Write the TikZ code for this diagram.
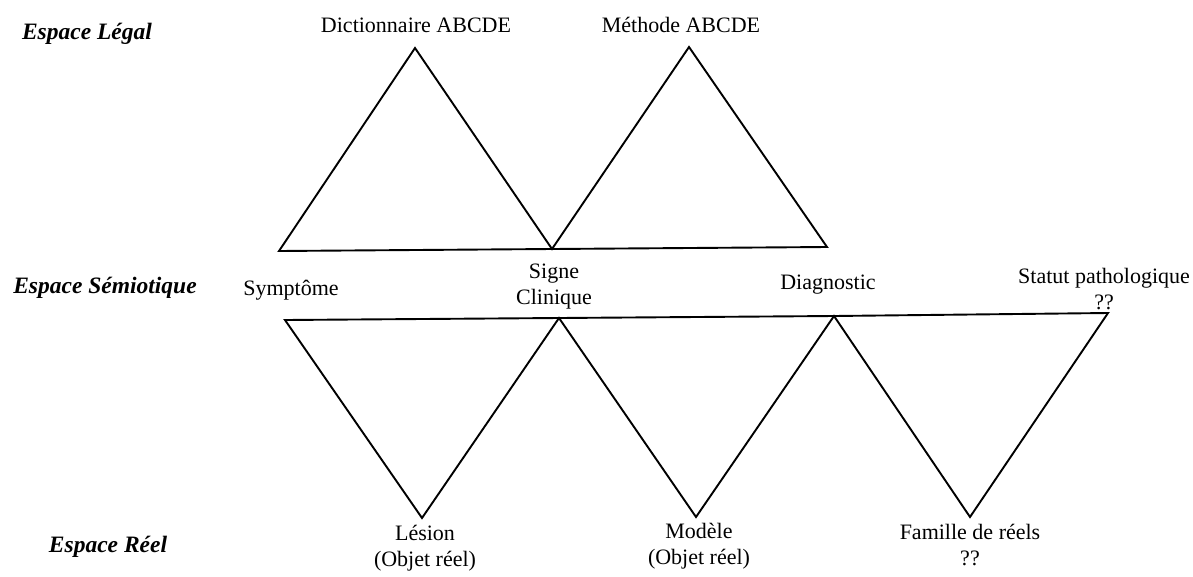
\documentclass[tikz,border=0pt]{standalone}
\usepackage{fontspec}
\setmainfont{Liberation Serif}
\begin{document}
\begin{tikzpicture}[x=1pt,y=-1pt,
  edge/.style={line width=1.9pt,line join=miter},
  lbl/.style={inner sep=0pt,anchor=base,align=center,font=\fontsize{22}{26}\selectfont},
  space/.style={inner sep=0pt,anchor=base,font=\fontsize{23.5}{27}\selectfont\bfseries\itshape}]
\useasboundingbox (0,0) rectangle (1193,576);
% vertices
\coordinate (dict) at (415,48);
\coordinate (meth) at (689,47);
\coordinate (tl) at (279,251);
\coordinate (tm) at (552,249);
\coordinate (tr) at (827,247);
\coordinate (symp) at (285,320);
\coordinate (sc) at (559,318);
\coordinate (diag) at (834,316);
\coordinate (stat) at (1108,313);
\coordinate (les) at (422,518);
\coordinate (mod) at (696,517);
\coordinate (fam) at (970,517);
% upper triangles
\draw[edge] (tl) -- (dict) -- (tm) -- (meth) -- (tr) -- (tm) -- cycle;
% lower triangles
\draw[edge] (symp) -- (les) -- (sc) -- (mod) -- (diag) -- (fam) -- (stat) -- (diag) -- (sc) -- cycle;
% space labels
\node[space] (legal) at (87,39) {Espace Légal};
\node[space] (semio) at (105,293) {Espace Sémiotique};
\node[space] (reel) at (108,552) {Espace Réel};
% texts
\node[lbl] (tdict) at (416,32) {Dictionnaire ABCDE};
\node[lbl] (tmeth) at (681,32) {Méthode ABCDE};
\node[lbl] (tsymp) at (291,295) {Symptôme};
\node[lbl] (tsc) at (554,304) {Signe\\Clinique};
\node[lbl] (tdiag) at (828,289) {Diagnostic};
\node[lbl] (tstat) at (1104,309) {Statut pathologique\\??};
\node[lbl] (tles) at (425,566) {Lésion\\(Objet réel)};
\node[lbl] (tmod) at (699,564) {Modèle\\(Objet réel)};
\node[lbl] (tfam) at (970,565) {Famille de réels\\??};
\end{tikzpicture}
\end{document}
